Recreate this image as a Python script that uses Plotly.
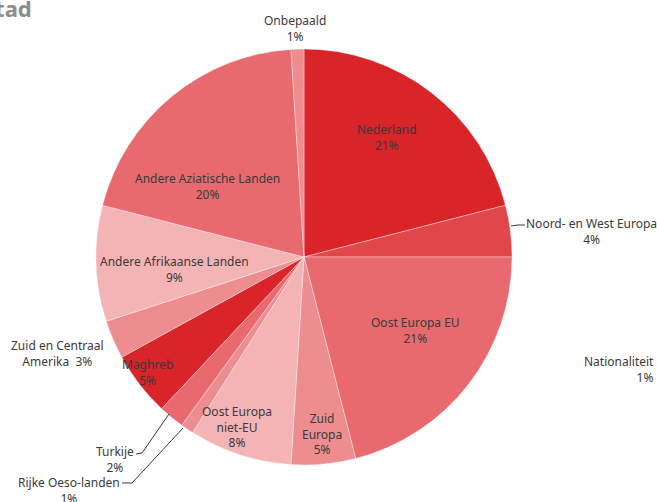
import plotly.graph_objects as go

W, H = 657, 502

# ---- data ----
categories = ["Nederland", "Noord- en West Europa", "Oost Europa EU", "Zuid Europa",
              "Oost Europa niet-EU", "Rijke Oeso-landen", "Turkije", "Maghreb",
              "Zuid en Centraal Amerika", "Andere Afrikaanse Landen",
              "Andere Aziatische Landen", "Onbepaald"]
values = [21, 4, 21, 5, 8, 1, 2, 5, 3, 9, 20, 1]
label_texts = ["Nederland<br>21%", "Noord- en West Europa<br>4%", "Oost Europa EU<br>21%",
               "Zuid<br>Europa<br>5%", "Oost Europa<br>niet-EU<br>8%", "Rijke Oeso-landen<br>1%",
               "Turkije<br>2%", "Maghreb<br>5%", "Zuid en Centraal<br>Amerika  3%",
               "Andere Afrikaanse Landen<br>9%", "Andere Aziatische Landen<br>20%",
               "Onbepaald<br>1%"]

# ---- style / layout ----
colors = ["#D9252A", "#E1464A", "#E86A6E", "#EE8D90", "#F4B4B6", "#EE8D90",
          "#E86A6E", "#D9252A", "#EE8D90", "#F4B4B6", "#E86A6E", "#EE8D90"]
# label block centres in pixels
label_pos = [(387, 137), (591, 231), (415, 330), (322, 434), (237, 427), (69, 490),
             (115, 459), (147, 372), (57, 353), (174, 269), (207, 186), (295, 29)]

cx, cy, R = 304, 257, 208

def px(x):
    return x / W

def py(y):
    return 1 - y / H

fig = go.Figure(go.Pie(
    labels=categories, values=values, sort=False, direction="clockwise", rotation=0,
    marker=dict(colors=colors, line=dict(color="rgba(255,255,255,0.6)", width=0.6)),
    textinfo="none", hoverinfo="label+percent", showlegend=False,
    domain=dict(x=[px(cx - R), px(cx + R)], y=[py(cy + R), py(cy - R)]),
))

font = dict(family="Noto Sans, Open Sans, sans-serif", size=12, color="#3A3A3A")
annotations = []
for t, (x, y) in zip(label_texts, label_pos):
    annotations.append(dict(x=px(x), y=py(y), xref="paper", yref="paper", text=t,
                            showarrow=False, xanchor="center", yanchor="middle",
                            align="center", font=font))

# partially visible elements of the original page
annotations.append(dict(x=px(34), y=py(8), xref="paper", yref="paper", text="<b>Stad</b>",
                        showarrow=False, xanchor="right", yanchor="middle",
                        font=dict(family="Noto Sans, sans-serif", size=22, color="#8C8C8C")))
annotations.append(dict(x=px(656), y=py(369), xref="paper", yref="paper",
                        text="Nationaliteit<br>1%", showarrow=False, xanchor="right",
                        yanchor="middle", align="right", font=font))

# leader lines (pixel coordinates)
leaders = [
    [(511, 226), (518, 225), (525, 225)],
    [(169, 414), (142, 453), (136, 454)],
    [(183, 428), (132, 483), (122, 483)],
]
shapes = []
for pts in leaders:
    for (x0, y0), (x1, y1) in zip(pts[:-1], pts[1:]):
        shapes.append(dict(type="line", xref="paper", yref="paper",
                           x0=px(x0), y0=py(y0), x1=px(x1), y1=py(y1),
                           line=dict(color="#3A3A3A", width=1)))

fig.update_layout(width=W, height=H, margin=dict(l=0, r=0, t=0, b=0),
                  paper_bgcolor="white", plot_bgcolor="white",
                  annotations=annotations, shapes=shapes)

fig.write_html("out.html", config={"displayModeBar": False},
               post_script="document.body.style.margin='0';document.body.style.overflow='hidden';")
